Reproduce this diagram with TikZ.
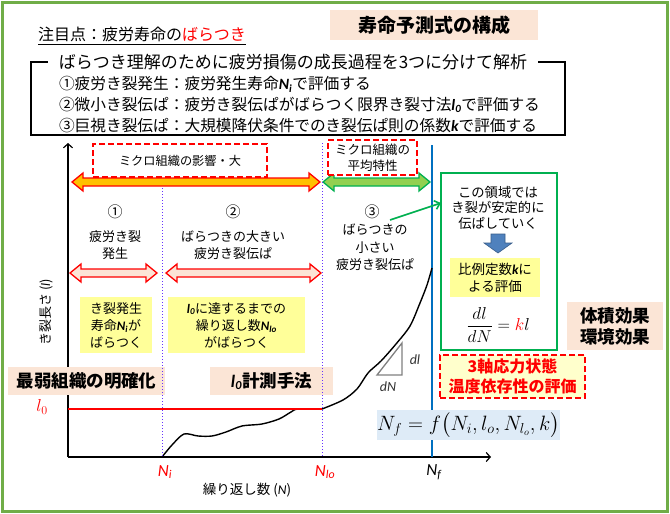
\documentclass[tikz,border=0pt]{standalone}
\usepackage{fontspec}
\usepackage{amsmath}
\setmainfont{Noto Sans CJK JP}
\newfontfamily\lat{Carlito}
\usetikzlibrary{arrows.meta}
\definecolor{frameG}{HTML}{70AD47}
\definecolor{peach}{HTML}{FBE5D6}
\definecolor{yel}{HTML}{FFFF99}
\definecolor{ltyel}{HTML}{FFFFCC}
\definecolor{lblue}{HTML}{DEEBF7}
\definecolor{gbox}{HTML}{00B050}
\definecolor{gfill}{HTML}{92D050}
\definecolor{gold}{HTML}{FFC000}
\definecolor{nfblue}{HTML}{0070C0}
\definecolor{dotc}{HTML}{6633FF}
\definecolor{pinkf}{HTML}{FCE4D6}
\definecolor{blkfill}{HTML}{4F81BD}
\definecolor{blkdraw}{HTML}{385D8A}
\definecolor{trig}{HTML}{808080}
\newcommand{\fsz}[2]{\fontsize{#1}{#2}\selectfont}
\newcommand{\vsub}[2]{{\lat\bfseries\itshape #1\textsubscript{#2}}}
\newcommand{\dblarrow}[7]{%
\filldraw[#1] (#2,#4) -- ({#2+#7},{#4-#6}) -- ({#2+#7},{#4-#5}) -- ({#3-#7},{#4-#5}) -- ({#3-#7},{#4-#6}) -- (#3,#4) -- ({#3-#7},{#4+#6}) -- ({#3-#7},{#4+#5}) -- ({#2+#7},{#4+#5}) -- ({#2+#7},{#4+#6}) -- cycle;}
\tikzset{
  peachbox/.style={fill=peach, draw=none},
  yelbox/.style={fill=yel, draw=none},
  reddash/.style={draw=red, line width=2.2pt, dash pattern=on 6pt off 3pt},
  axisline/.style={line width=1.2pt, -{Straight Barb[length=4pt,width=9pt]}},
  dotline/.style={draw=dotc, line width=1pt, dotted},
}
\begin{document}
\begin{tikzpicture}[x=1pt,y=-1pt, every node/.style={inner sep=0pt, outer sep=0pt}]
\useasboundingbox (0,0) rectangle (670,514);
\fill[white] (0,0) rectangle (670,514);
\draw[frameG, line width=3pt] (2.5,2.5) rectangle (667.5,511.5);

% title
\node[peachbox, minimum width=208pt, minimum height=30pt, font=\fsz{19}{22}\bfseries] (title) at (434,25) {寿命予測式の構成};
\node[anchor=base west, font=\fsz{16}{20}] (focus) at (38,41) {注目点：疲労寿命の\textcolor{red}{ばらつき}};
\draw[line width=0.9pt] ([yshift=-3.5pt]focus.base west) -- ([yshift=-3.5pt]focus.base east);

% bracket with heading
\node[draw, line width=1.8pt, minimum width=534pt, minimum height=73pt] (bracket) at (298,98.5) {};
\node[fill=white, minimum width=490pt, minimum height=28pt, font=\fsz{17}{20}] (head) at (293,62) {ばらつき理解のために疲労損傷の成長過程を3つに分けて解析};
\node[anchor=west, font=\fsz{15.7}{19}] (l1) at (59,84) {①疲労き裂発生：疲労発生寿命\vsub{N}{i}で評価する};
\node[anchor=west, font=\fsz{15.7}{19}] (l2) at (59,105) {②微小き裂伝ぱ：疲労き裂伝ぱがばらつく限界き裂寸法\vsub{l}{0}で評価する};
\node[anchor=west, font=\fsz{15.7}{19}] (l3) at (59,126) {③巨視き裂伝ぱ：大規模降伏条件でのき裂伝ぱ則の係数{\lat\bfseries\itshape k}で評価する};

% axes
\coordinate (O) at (68,457);
\coordinate (ytop) at (68,143);
\coordinate (xend) at (491,457);
\draw[axisline] (O) -- (ytop);
\draw[axisline] (O) -- (xend);

% vertical lines
\coordinate (NiT) at (162,188); \coordinate (NiB) at (162,457);
\coordinate (NloT) at (322,143); \coordinate (NloB) at (322,457);
\coordinate (NfT) at (432,145); \coordinate (NfB) at (432,457);
\draw[nfblue, line width=1.3pt] (NfT) -- (NfB);

% curve
\draw[line width=1.4pt, line join=round] plot[smooth, tension=0.5] coordinates {(162,457) (172,445) (184,434) (198,436) (212,436) (226,432) (242,426) (262,424) (279,419) (291,412) (298,409) (322,409)};
\draw[line width=1.4pt, line join=round] plot[smooth, tension=0.5] coordinates {(322,409) (343,400) (357,389) (368,373) (381,361) (396,344) (410,326) (420,303) (427,285) (432,268)};

% l0 line
\coordinate (l0L) at (68,409); \coordinate (l0R) at (322,409);
\draw[red, line width=1.5pt] (l0L) -- (l0R);
\node[text=red, font=\fsz{18}{20}] (l0lab) at (42,407) {$l_0$};

% double arrows
\dblarrow{fill=gold, draw=red, line width=1.3pt}{72}{320}{182}{4}{9}{11}
\dblarrow{fill=gfill, draw=gbox, line width=1.3pt}{323}{430}{182}{4}{9}{11}
\dblarrow{fill=pinkf, draw=red, line width=1.3pt}{70}{157}{273}{4}{9}{11}
\dblarrow{fill=pinkf, draw=red, line width=1.3pt}{166}{321}{273}{4}{9}{11}

% red dashed boxes top
\node[reddash, fill=white, minimum width=174pt, minimum height=33pt, font=\fsz{12.2}{15}] (micro1) at (180,160.5) {ミクロ組織の影響・大};
\node[reddash, fill=white, minimum width=89pt, minimum height=35pt, align=center, font=\fsz{12.5}{16}] (micro2) at (372.5,157.5) {ミクロ組織の\\平均特性};

% region labels
\node[font=\fsz{15}{17}] (c1) at (115,212) {①};
\node[font=\fsz{15}{17}] (c2) at (233,212) {②};
\node[font=\fsz{15}{17}] (c3) at (372,212) {③};
\node[align=center, font=\fsz{13}{16.5}] (r1) at (115,245) {疲労き裂\\発生};
\node[align=center, font=\fsz{13}{16.5}] (r2) at (233,245) {ばらつきの大きい\\疲労き裂伝ぱ};
\node[align=center, font=\fsz{13}{17.5}] (r3) at (375,247.5) {ばらつきの\\小さい\\疲労き裂伝ぱ};

% yellow boxes
\node[yelbox, minimum width=72pt, minimum height=56pt, align=center, font=\fsz{13}{17}] (y1) at (116,325) {き裂発生\\寿命\vsub{N}{i}が\\ばらつく};
\node[yelbox, minimum width=137pt, minimum height=56pt, align=center, font=\fsz{13}{17}] (y2) at (236.5,325) {\vsub{l}{0}に達するまでの\\繰り返し数\vsub{N}{lo}\\がばらつく};

% peach boxes
\node[peachbox, minimum width=157pt, minimum height=28pt, font=\fsz{17.5}{20}\bfseries] (weak) at (86.5,381) {最弱組織の明確化};
\node[peachbox, minimum width=123pt, minimum height=28pt, font=\fsz{17.5}{20}\bfseries] (meas) at (271.5,381) {{\lat\itshape l}\textsubscript{\lat\itshape 0}計測手法};
\node[peachbox, minimum width=96pt, minimum height=48pt, align=center, font=\fsz{17.5}{21}\bfseries] (vol) at (615,326) {体積効果\\環境効果};

\draw[dotline] (NiT) -- (NiB);
\draw[dotline] (NloT) -- (NloB);

% green box
\node[draw=gbox, line width=1.5pt, minimum width=116pt, minimum height=177pt] (gb) at (499,261.5) {};
\node[align=center, font=\fsz{13.3}{15.5}] (gtext) at (498,207.5) {この領域では\\き裂が安定的に\\伝ぱしていく};
\filldraw[fill=blkfill, draw=blkdraw, line width=0.6pt] (491,234) -- (505,234) -- (505,243) -- (512,243) -- (498,253) -- (484,243) -- (491,243) -- cycle;
\node[yelbox, minimum width=90pt, minimum height=39pt, align=center, font=\fsz{13.5}{17}] (y3) at (495,277.5) {比例定数{\lat\bfseries\itshape k}に\\よる評価};
\node[font=\fsz{17}{20}] (dldn) at (498,325) {$\dfrac{dl}{dN}=\textcolor{red}{k}l$};

% green arrow
\coordinate (ga1) at (390,220);
\coordinate (ga2) at (441,203);
\draw[gbox, line width=1.6pt, -{Straight Barb[length=5pt,width=9pt]}] (ga1) -- (ga2);

% red dashed yellow box
\node[reddash, fill=ltyel, minimum width=145pt, minimum height=43pt, align=center, text=red, font=\fsz{16}{20}\bfseries] (tri3) at (512.5,376.5) {3軸応力状態\\温度依存性の評価};

% triangle
\draw[trig, line width=1.3pt, line join=miter] (377,375) -- (402,375) -- (402,343) -- cycle;
\node[text=black!80, font=\fsz{14}{16}\lat\itshape] (dl) at (415,360) {dl};
\node[text=black!80, font=\fsz{14}{16}\lat\itshape] (dN) at (388,387) {dN};

% Nf formula
\node[fill=lblue, minimum width=183pt, minimum height=30pt, font=\fsz{19.5}{22}] (nf) at (468.5,425) {$N_f=f\big(N_i,l_o,N_{l_o},k\big)$};

% axis labels
\node[text=red, font=\fsz{17}{20}\lat\itshape] (Ni) at (165,472) {N\textsubscript{i}};
\node[text=red, font=\fsz{17}{20}\lat\itshape] (Nlo) at (325,472) {N\textsubscript{lo}};
\node[font=\fsz{17}{20}\lat\itshape] (Nf) at (434,472) {N\textsubscript{f}};
\node[font=\fsz{13.5}{16}] (xlab) at (247,490) {繰り返し数 ({\lat\itshape N})};
\node[rotate=90, font=\fsz{13}{15}] (ylab) at (46,312) {き裂長さ ({\lat\itshape l})};
\end{tikzpicture}
\end{document}
